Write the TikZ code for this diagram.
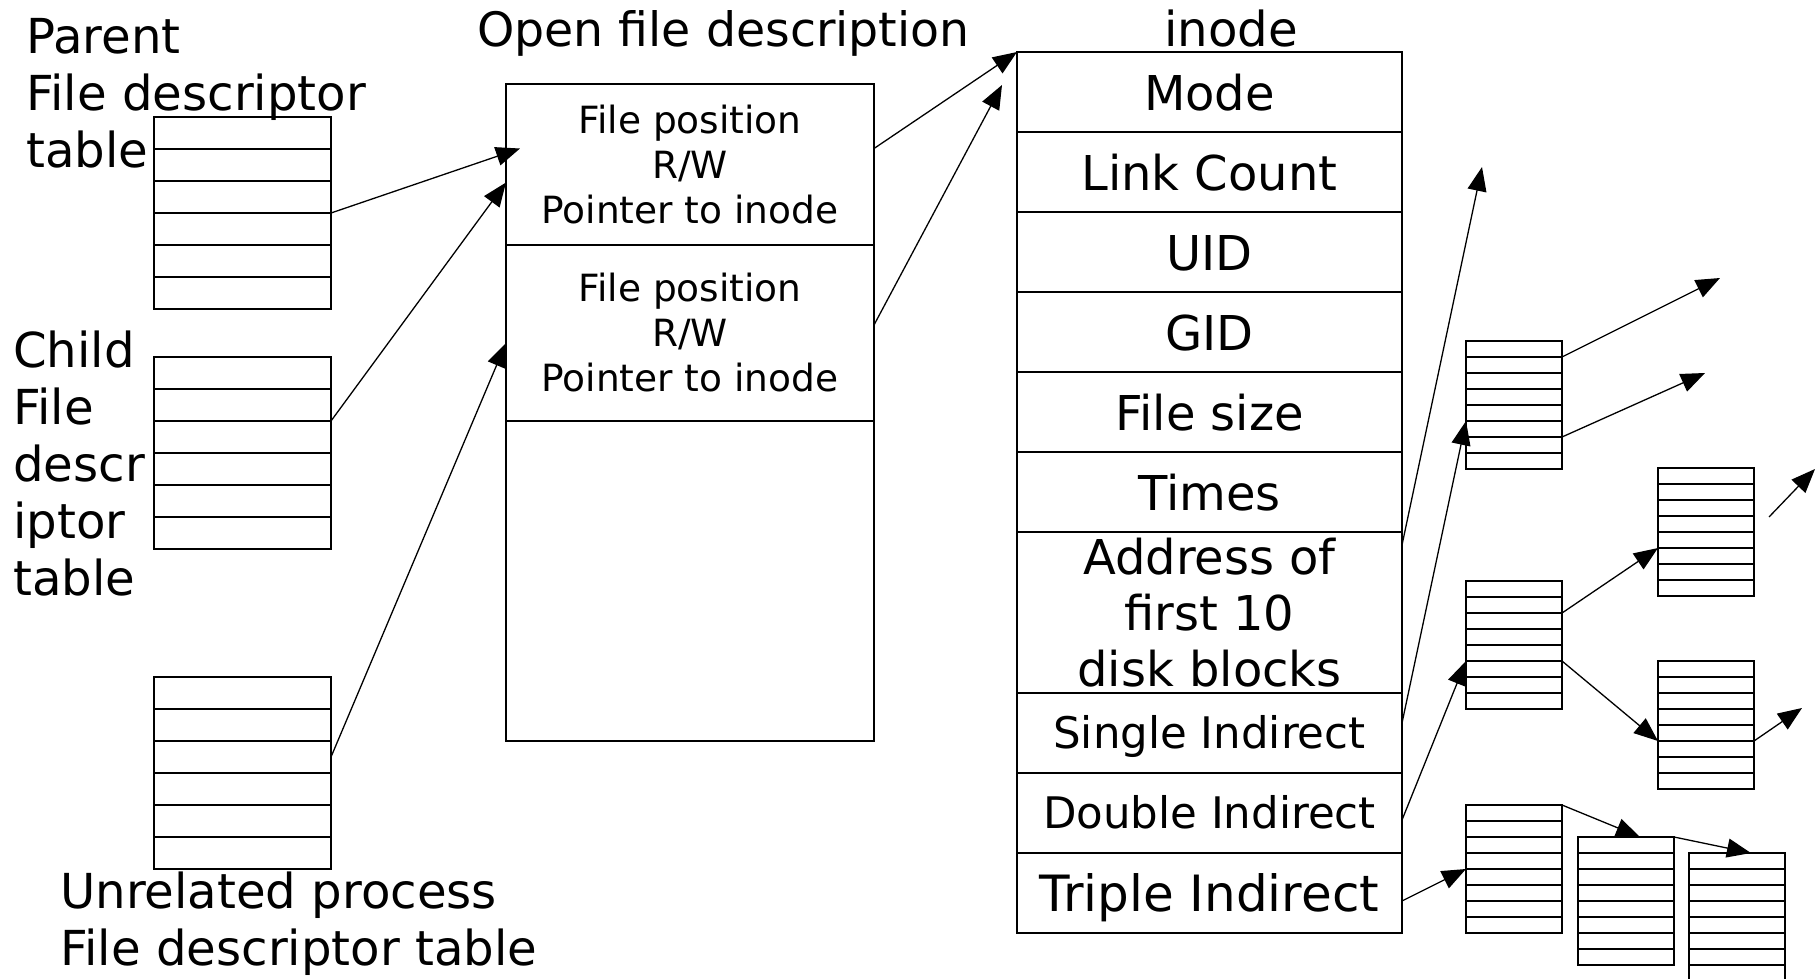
\documentclass[tikz,border=0pt]{standalone}
\usepackage{fontspec}
\setmainfont{DejaVu Sans}
\usetikzlibrary{arrows.meta,positioning}
\tikzset{
	fdslot/.style={
		rectangle,
		draw,
		line width=1.3pt,
		minimum width=177pt,
		minimum height=32pt,
		inner sep=0pt,
		outer sep=0pt,
	},
	blkslot/.style={
		fdslot,
		minimum width=96pt,
		minimum height=16pt,
	},
	ofdpart/.style={
		rectangle,
		draw,
		line width=1.3pt,
		minimum width=368pt,
		inner sep=0pt,
		outer sep=0pt,
		align=center,
		font=\fontsize{37.5}{45}\selectfont,
	},
	multifield/.style={
		rectangle,
		draw,
		line width=1.3pt,
		minimum width=385pt,
		minimum height=80pt,
		inner sep=0pt,
		outer sep=0pt,
		align=center,
		font=\fontsize{48}{56}\selectfont,
	},
	field/.style={
		multifield,
		text height=37pt,
		text depth=0pt,
	},
	smallfield/.style={
		multifield,
		text height=30pt,
		text depth=0pt,
		font=\fontsize{43.5}{50}\selectfont,
	},
	tabletitle/.style={
		inner sep=0pt,
		align=left,
		font=\fontsize{48.2}{57}\selectfont,
	},
	ptr/.style={
		-{Triangle[length=24pt,width=19pt]},
		line width=1.3pt,
	},
}

\begin{document}
\begin{tikzpicture}[x=1pt,y=-1pt]
	\useasboundingbox (0,0) rectangle (1815,979);

	% file descriptor tables
	\node [fdslot, anchor=north west] (par1) at (154,117) {};
	\foreach \i [remember=\i as \j (initially 1)] in {2,...,6}
		\node [fdslot, below=0pt of par\j] (par\i) {};
	\node [tabletitle, anchor=north west] (parlbl) at (26,18.5) {Parent\\File descriptor\\table};

	\node [fdslot, anchor=north west] (chi1) at (154,357) {};
	\foreach \i [remember=\i as \j (initially 1)] in {2,...,6}
		\node [fdslot, below=0pt of chi\j] (chi\i) {};
	\node [tabletitle, anchor=north west] (chilbl) at (13,331) {Child\\File\\descr\\iptor\\table};

	\node [fdslot, anchor=north west] (unr1) at (154,677) {};
	\foreach \i [remember=\i as \j (initially 1)] in {2,...,6}
		\node [fdslot, below=0pt of unr\j] (unr\i) {};
	\node [tabletitle, anchor=north west] (unrlbl) at (60,872) {Unrelated process\\File descriptor table};

	% open file description
	\node [
	  tabletitle,
	  font=\fontsize{47.4}{57}\selectfont,
	  anchor=base west
	] (ofdlbl) at (477,47) {Open file description};
	\node [
	  ofdpart,
	  minimum height=161pt,
	  anchor=north west
	] (ofd1) at (506,84) {File position\\R/W\\Pointer to inode};
	\node [
	  ofdpart,
	  minimum height=176pt,
	  below=0pt of ofd1
	] (ofd2) {File position\\R/W\\Pointer to inode};
	\node [
	  ofdpart,
	  minimum height=320pt,
	  below=0pt of ofd2
	] (ofd3) {};

	% inode
	\node [tabletitle, anchor=base] (inodelbl) at (1231,47) {inode};
	\node [field, anchor=north west] (mode) at (1017,52) {Mode};
	\node [field, below=0pt of mode] (links) {Link Count};
	\node [field, below=0pt of links] (uid) {UID};
	\node [field, below=0pt of uid] (gid) {GID};
	\node [field, below=0pt of gid] (fsize) {File size};
	\node [field, below=0pt of fsize] (times) {Times};
	\node [
	  multifield,
	  minimum height=161pt,
	  below=0pt of times
	] (addr) {Address of\\first 10\\disk blocks};
	\node [smallfield, below=0pt of addr] (single) {Single Indirect};
	\node [smallfield, below=0pt of single] (double) {Double Indirect};
	\node [field, font=\fontsize{50}{56}\selectfont, below=0pt of double] (triple) {Triple Indirect};

	% indirect blocks
	\foreach \bn/\bx/\by in {A/1466/341,B/1658/468,C/1466/581,D/1658/661,E/1466/805,F/1578/837,G/1689/853} {
		\node [blkslot, anchor=north west] (blk\bn1) at (\bx,\by) {};
		\foreach \i [remember=\i as \j (initially 1)] in {2,...,8}
			\node [blkslot, below=0pt of blk\bn\j] (blk\bn\i) {};
	}

	\coordinate (hitpar) at ([xshift=14pt,yshift=16pt]ofd1.west);
	\coordinate (hitchi) at ([yshift=-18pt]ofd1.west);
	\coordinate (hitunr) at ([yshift=-10pt]ofd2.west);
	\coordinate (hitino) at ([xshift=-15pt,yshift=-33pt]mode.north west);
	\coordinate (direct) at (1482,167);
	\coordinate (outA1) at (1720,278);
	\coordinate (outA2) at (1705,373);
	\coordinate (outD) at (1802,708);
	\coordinate (looseA) at (1769,517);
	\coordinate (looseB) at (1815,469);

	\draw[ptr] (par3.south east) -- (hitpar);
	\draw[ptr] (chi2.south east) -- (hitchi);
	\draw[ptr] (unr3.east) -- (hitunr);
	\draw[ptr] ([yshift=16pt]ofd1.east) -- (mode.north west);
	\draw[ptr] ([yshift=8pt]ofd2.east) -- (hitino);

	\draw[ptr] ([yshift=-13pt]addr.north east) -- (direct);
	\draw[ptr] ([yshift=10pt]single.east) -- (blkA5.south west);
	\draw[ptr] ([yshift=-7pt]double.east) -- (blkC5.south west);
	\draw[ptr] ([yshift=-8pt]triple.east) -- (blkE4.south west);

	\draw[ptr] (blkA1.south east) -- (outA1);
	\draw[ptr] (blkA6.south east) -- (outA2);
	\draw[ptr] (blkC2.south east) -- (blkB5.south west);
	\draw[ptr] (blkC5.south east) -- (blkD5.south west);
	\draw[ptr] (blkD5.south east) -- (outD);
	\draw[ptr] (looseA) -- (looseB);
	\draw[ptr] (blkE1.north east) -- ([xshift=14pt]blkF1.north);
	\draw[ptr] (blkF1.north east) -- ([xshift=14pt]blkG1.north);
\end{tikzpicture}
\end{document}
